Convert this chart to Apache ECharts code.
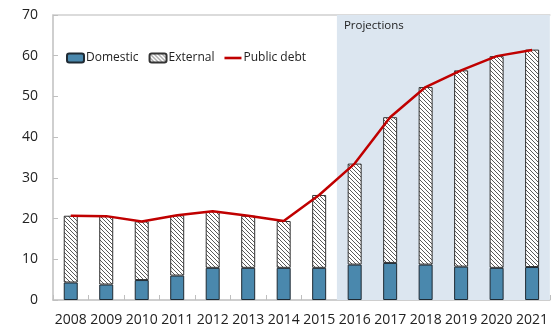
<!DOCTYPE html>
<html>
<head>
<meta charset="utf-8">
<script src="https://cdn.jsdelivr.net/npm/echarts@6/dist/echarts.min.js"></script>
<style>
  html, body { margin: 0; padding: 0; background: #fff; }
  #chart { width: 551px; height: 332px; }
</style>
</head>
<body>
<div id="chart"></div>
<script>
// Public debt composition, percent of GDP
const years = ['2008','2009','2010','2011','2012','2013','2014','2015','2016','2017','2018','2019','2020','2021'];
const domestic = [4.3, 3.8, 4.9, 6.0, 7.9, 7.9, 7.9, 7.9, 8.7, 9.1, 8.7, 8.2, 7.9, 8.1];
const external = [16.4, 16.8, 14.4, 14.8, 13.9, 12.8, 11.5, 17.9, 24.8, 35.8, 43.6, 48.2, 52.0, 53.4];
const publicDebt = [20.7, 20.6, 19.3, 20.8, 21.8, 20.7, 19.4, 25.8, 33.5, 44.9, 52.3, 56.4, 59.9, 61.4];
const yTicks = [0, 10, 20, 30, 40, 50, 60, 70];
const projectionStart = 8; // index of first projected year

// diagonal hatch fill for the external component
function hatch() {
  const c = document.createElement('canvas');
  c.width = 4; c.height = 4;
  const g = c.getContext('2d');
  g.fillStyle = '#ffffff';
  g.fillRect(0, 0, 4, 4);
  g.strokeStyle = '#5a5a5a';
  g.lineWidth = 1;
  g.beginPath();
  g.moveTo(-1, -1); g.lineTo(5, 5);
  g.moveTo(-1, 3); g.lineTo(1, 5);
  g.moveTo(3, -1); g.lineTo(5, 1);
  g.stroke();
  return c;
}

const chart = echarts.init(document.getElementById('chart'), null, { renderer: 'canvas' });
const font = '"Open Sans", "Noto Sans", sans-serif';

chart.setOption({
  animation: false,
  textStyle: { fontFamily: font },
  grid: { left: 53, right: -2, top: 15, bottom: 32, containLabel: false },
  legend: {
    left: 61, top: 47,
    itemWidth: 17, itemHeight: 9, itemGap: 10,
    textStyle: { fontSize: 12, color: '#222', fontFamily: font, padding: [0, 0, 0, -3] },
    data: [
      { name: 'Domestic' },
      { name: 'External' },
      { name: 'Public debt', icon: 'path://M0,0L17,0L17,2.6L0,2.6Z', itemStyle: { color: '#c00000' } }
    ]
  },
  xAxis: [{
    type: 'category',
    data: years,
    boundaryGap: true,
    axisLine: { lineStyle: { color: '#bfbfbf', width: 1.5 } },
    axisTick: { show: true, inside: true, length: 5, lineStyle: { color: '#bfbfbf' } },
    axisLabel: { fontSize: 14, color: '#222', margin: 13, interval: 0 },
    splitLine: { show: false }
  }, {
    type: 'value',
    position: 'top',
    min: 0, max: years.length,
    show: true,
    axisLine: { show: true, onZero: false, lineStyle: { color: '#d0d0d0', width: 1.5 } },
    axisTick: { show: false },
    axisLabel: { show: false },
    splitLine: { show: false }
  }],
  yAxis: {
    type: 'value',
    min: yTicks[0], max: yTicks[yTicks.length - 1], interval: 10,
    axisLine: { show: true, lineStyle: { color: '#bfbfbf', width: 1.5 } },
    axisTick: { show: true, inside: true, length: 5, lineStyle: { color: '#bfbfbf' } },
    axisLabel: { fontSize: 14, color: '#222', margin: 15 },
    splitLine: { show: false }
  },
  series: [{
    name: 'Projection band',
    type: 'line',
    xAxisIndex: 1,
    data: [],
    silent: true,
    markArea: {
      silent: true,
      itemStyle: { color: '#dce6f0' },
      label: {
        show: true, position: 'insideTopLeft', offset: [2, 0],
        color: '#222', fontSize: 11.5, fontFamily: font
      },
      data: [[{ xAxis: projectionStart, yAxis: 70, name: 'Projections' }, { xAxis: years.length, yAxis: 0 }]]
    }
  }, {
    name: 'Domestic',
    type: 'bar',
    stack: 'debt',
    barWidth: 14,
    data: domestic,
    itemStyle: { color: '#4a88ad', borderColor: '#1f2a33', borderWidth: 1 }
  }, {
    name: 'External',
    type: 'bar',
    stack: 'debt',
    barWidth: 14,
    data: external,
    itemStyle: { color: { image: hatch(), repeat: 'repeat' }, borderColor: '#333', borderWidth: 1 }
  }, {
    name: 'Public debt',
    type: 'line',
    data: publicDebt,
    symbol: 'none',
    showSymbol: false,
    z: 5,
    lineStyle: { color: '#c00000', width: 2.5 },
    itemStyle: { color: '#c00000' }
  }]
});
</script>
</body>
</html>
